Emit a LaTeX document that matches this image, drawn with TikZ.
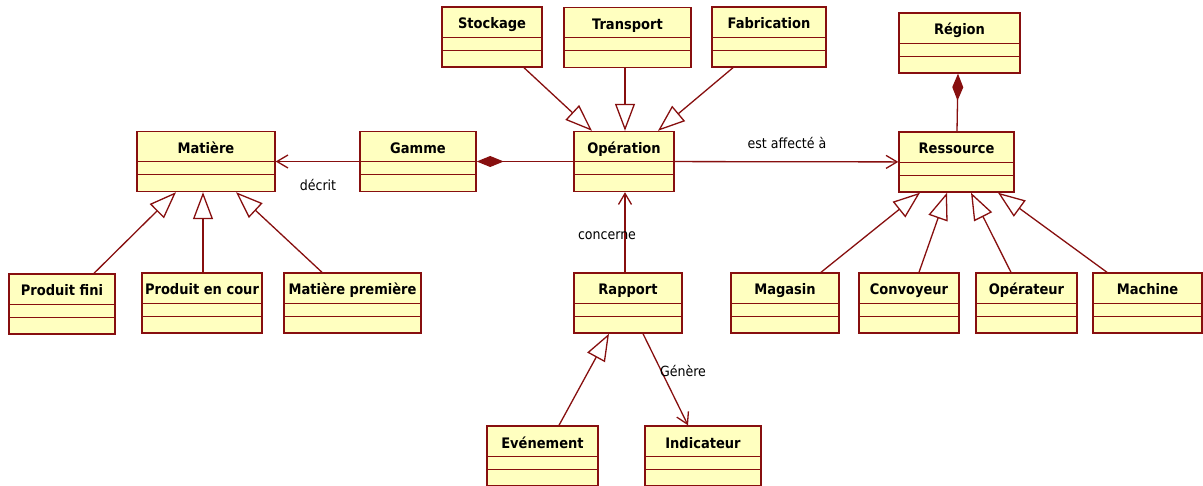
\documentclass[tikz,border=0pt]{standalone}
\usepackage{fontspec}
\setmainfont{DejaVu Sans Condensed}[BoldFont={DejaVu Sans Condensed Bold}]
\usepackage{tikz}
\usetikzlibrary{arrows.meta}

\definecolor{umlred}{RGB}{135,15,15}
\definecolor{umlfill}{RGB}{255,255,192}

\tikzset{
  umlclass/.style={draw=umlred, fill=umlfill, line width=1.4pt, inner xsep=2pt, inner ysep=0pt,
    text height=22pt, text depth=38pt, font=\bfseries\fontsize{14.5}{16}\selectfont},
  generalise/.style={draw=umlred, line width=1.3pt, -{Triangle[open, length=27pt, width=20pt]}},
  navigates/.style={draw=umlred, line width=1.3pt, -{Straight Barb[length=11pt, width=13pt]}},
  composes/.style={draw=umlred, line width=1.3pt, {Diamond[length=27pt, width=11pt]}-},
  assoclabel/.style={font=\fontsize{14}{16}\selectfont}
}

\begin{document}
\begin{tikzpicture}[x=1pt, y=-1pt]
        \fill[white] (0,0) rectangle (1203,486);
        \useasboundingbox (0,0) rectangle (1203,486);

        \node (stockage) [umlclass, minimum width=100pt] at (492,37) {Stockage};
        \node (transport) [umlclass, minimum width=127pt] at (627.5,37.5) {Transport};
        \node (fabrication) [umlclass, minimum width=114pt] at (769,37) {Fabrication};
        \node (region) [umlclass, minimum width=121pt] at (959.5,43) {Région};

        \node (matiere) [umlclass, minimum width=138pt] at (206,161.5) {Matière};
        \node (gamme) [umlclass, minimum width=116pt] at (418,161.5) {Gamme};
        \node (operation) [umlclass, minimum width=100pt] at (624,161.5) {Opération};
        \node (ressource) [umlclass, minimum width=115pt] at (956.5,162) {Ressource};

        \node (produitfini) [umlclass, minimum width=106pt] at (62,304) {Produit fini};
        \node (produitcour) [umlclass, minimum width=120pt] at (202,303) {Produit en cour};
        \node (premiere) [umlclass, minimum width=137pt] at (352.5,303) {Matière première};
        \node (rapport) [umlclass, minimum width=108pt] at (628,303) {Rapport};
        \node (magasin) [umlclass, minimum width=108pt] at (785,303) {Magasin};
        \node (convoyeur) [umlclass, minimum width=100pt] at (909,303) {Convoyeur};
        \node (operateur) [umlclass, minimum width=101pt] at (1026.5,303) {Opérateur};
        \node (machine) [umlclass, minimum width=109pt] at (1147.5,303) {Machine};

        \node (evenement) [umlclass, minimum width=111pt] at (542.5,456) {Evénement};
        \node (indicateur) [umlclass, minimum width=116pt] at (703,456) {Indicateur};

        % compartments
        \foreach \c in {stockage, transport, fabrication, region, matiere, gamme, operation,
                        ressource, produitfini, produitcour, premiere, rapport, magasin,
                        convoyeur, operateur, machine, evenement, indicateur} {
            \draw[umlred, line width=1.4pt] ([yshift=-31pt]\c.north west) -- ([yshift=-31pt]\c.north east);
            \draw[umlred, line width=1.4pt] ([yshift=-44pt]\c.north west) -- ([yshift=-44pt]\c.north east);
        }

        \draw[generalise] ([xshift=32pt]stockage.south) -- ([xshift=-32pt]operation.north);
        \draw[generalise] ([xshift=-2.5pt]transport.south) -- ([xshift=1pt]operation.north);
        \draw[generalise] ([xshift=-36pt]fabrication.south) -- ([xshift=34pt]operation.north);

        \draw[generalise] ([xshift=32pt]produitfini.north) -- ([xshift=-30pt]matiere.south);
        \draw[generalise] ([xshift=1pt]produitcour.north) -- ([xshift=-3pt]matiere.south);
        \draw[generalise] ([xshift=-30.5pt]premiere.north) -- ([xshift=30pt]matiere.south);

        \draw[generalise] ([xshift=36pt]magasin.north) -- ([xshift=-36.5pt]ressource.south);
        \draw[generalise] ([xshift=10pt]convoyeur.north) -- ([xshift=-9.5pt]ressource.south);
        \draw[generalise] ([xshift=-15.5pt]operateur.north) -- ([xshift=14.5pt]ressource.south);
        \draw[generalise] ([xshift=-40.5pt]machine.north) -- ([xshift=41.5pt]ressource.south);

        \draw[generalise] ([xshift=16.5pt]evenement.north) -- ([xshift=-19pt]rapport.south);

        \draw[composes] (gamme) -- (operation);
        \draw[composes] ([xshift=-1.5pt]region.south) -- ([xshift=0.5pt]ressource.north);

        \draw[navigates] (gamme) -- (matiere);
        \draw[navigates] (operation) -- (ressource);
        \draw[navigates] ([xshift=-3pt]rapport.north) -- ([xshift=1pt]operation.south);
        \draw[navigates] ([xshift=15pt]rapport.south) -- ([xshift=-15pt]indicateur.north);

        \node (decrit) [assoclabel] at (318,185) {décrit};
        \node (affecte) [assoclabel] at (787,143) {est affecté à};
        \node (concerne) [assoclabel] at (607,236) {concerne};
        \node (genere) [assoclabel] at (683,371) {Génère};

    \end{tikzpicture}
\end{document}
